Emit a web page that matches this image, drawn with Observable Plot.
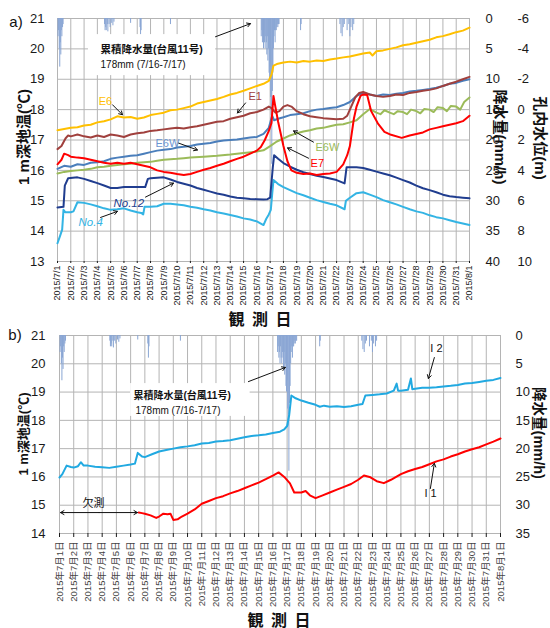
<!DOCTYPE html>
<html><head><meta charset="utf-8">
<script src="https://cdn.jsdelivr.net/npm/d3@7"></script>
<script src="https://cdn.jsdelivr.net/npm/@observablehq/plot@0.6"></script>
<style>
body{margin:0;background:#fff;}
#wrap{position:relative;width:550px;height:628px;overflow:hidden;font-family:"Liberation Sans","Noto Sans CJK JP",sans-serif;background:#fff;}
.abs{position:absolute;white-space:nowrap;color:#111;}
.c{transform:translate(-50%,-50%);}
.rl{transform:translate(-50%,-50%) rotate(-90deg);}
.rr{transform:translate(-50%,-50%) rotate(90deg);}
.t{font-weight:bold;}
</style></head>
<body>
<div id="wrap">
  <div id="pa" class="abs" style="left:0;top:0"></div>
  <div id="pb" class="abs" style="left:0;top:325px"></div>
  <div class="abs c" style="left:16px;top:21px;font-size:15px">a)</div>
  <div class="abs rl t" style="left:22px;top:137px;font-size:15px">1 m深地温(℃)</div>
  <div class="abs rr t" style="left:501px;top:137px;font-size:15px">降水量(mm/h)</div>
  <div class="abs rr t" style="left:541px;top:138px;font-size:15px">孔内水位(m)</div>
  <div class="abs c t" style="left:260px;top:318px;font-size:16px;word-spacing:3px">観 測 日</div>
  <div class="abs c" style="left:15px;top:334px;font-size:15px">b)</div>
  <div class="abs rl t" style="left:22px;top:434px;font-size:13px">1 m深地温(℃)</div>
  <div class="abs rr t" style="left:540px;top:433px;font-size:14.5px">降水量(mm/h)</div>
  <div class="abs c t" style="left:279px;top:619px;font-size:16px;word-spacing:3px">観 測 日</div>
</div>
<script>
// ---------- tick labels ----------
const labelsA = ["2015/7/1","2015/7/2","2015/7/3","2015/7/4","2015/7/5","2015/7/6","2015/7/7","2015/7/8","2015/7/9","2015/7/10","2015/7/11","2015/7/12","2015/7/13","2015/7/14","2015/7/15","2015/7/16","2015/7/17","2015/7/18","2015/7/19","2015/7/20","2015/7/21","2015/7/22","2015/7/23","2015/7/24","2015/7/25","2015/7/26","2015/7/27","2015/7/28","2015/7/29","2015/7/30","2015/7/31","2015/8/1"];
const labelsB = ["2015年7月1日","2015年7月2日","2015年7月3日","2015年7月4日","2015年7月5日","2015年7月6日","2015年7月7日","2015年7月8日","2015年7月9日","2015年7月10日","2015年7月11日","2015年7月12日","2015年7月13日","2015年7月14日","2015年7月15日","2015年7月16日","2015年7月17日","2015年7月18日","2015年7月19日","2015年7月20日","2015年7月21日","2015年7月22日","2015年7月23日","2015年7月24日","2015年7月25日","2015年7月26日","2015年7月27日","2015年7月28日","2015年7月29日","2015年7月30日","2015年7月31日","2015年8月1日"];
const tempTicksA = [21,20,19,18,17,16,15,14,13];
const rainTicksA = ["0","5","10","15","20","25","30","35","40"];
const waterTicksA = ["-6","-4","-2","0","2","4","6","8","10"];
const tempTicksB = [21,20,19,18,17,16,15,14];
const rainTicksB = ["0","5","10","15","20","25","30","35"];

// ---------- hourly rain [day since 7/1 0:00, mm/h] ----------
const rain = [
[0.04,3],[0.08,2],[0.13,5],[0.17,8],[0.21,4],[0.25,6],[0.29,2],[0.33,3],[0.38,1.5],[0.42,1],
[3.54,1],[3.58,2],[3.63,1.5],[3.67,2],[3.75,1],[3.79,2.2],[3.88,1],[3.96,1.5],[4.08,0.8],[4.17,1.2],[4.25,0.6],
[5.5,0.8],[6.21,1.5],[6.25,4],[6.29,2],[8.5,1],
[15.33,3],[15.375,2],[15.42,4],[15.46,3],[15.5,5],[15.54,2],[15.58,4],[15.625,5],[15.67,3],[15.71,4],[15.75,6],[15.79,3],[15.83,7],[15.875,5],[15.92,9],[15.96,10],[16.0,8],[16.04,13],[16.08,16],[16.125,24],[16.17,12],[16.21,9],[16.25,5],[16.29,3],[16.33,2],[16.375,4],[16.42,2],[16.46,2],[16.5,1.5],[16.54,1],[16.58,1.5],[16.625,1],[16.67,1],
[18.29,2],[18.33,1],
[21.25,1],[21.33,2.5],[21.42,3],[21.5,1.5],[21.58,1],[21.79,2],[21.92,1],[22.0,3],[22.08,1.5],[22.21,2],[22.29,1]
];

// ---------- panel a series [day, °C] ----------
const e6 = [[0,17.32],[0.5,17.36],[1,17.4],[1.5,17.42],[2,17.48],[2.5,17.5],[3,17.58],[3.5,17.62],[4,17.68],[4.5,17.78],[5,17.74],[5.5,17.76],[6,17.7],[6.5,17.74],[7,17.82],[7.5,17.86],[8,17.9],[8.5,17.98],[9,18.0],[9.5,18.05],[10,18.1],[10.5,18.2],[11,18.25],[11.5,18.3],[12,18.35],[12.5,18.42],[13,18.5],[13.5,18.55],[14,18.62],[14.5,18.7],[15,18.78],[15.5,18.85],[15.9,18.95],[16.1,19.15],[16.25,19.45],[16.5,19.5],[17,19.55],[17.5,19.58],[18,19.55],[18.5,19.6],[19,19.58],[19.5,19.62],[20,19.6],[20.5,19.65],[21,19.68],[21.5,19.72],[22,19.75],[22.5,19.8],[23,19.85],[23.5,19.88],[23.7,19.78],[24,19.92],[24.5,19.95],[25,20.0],[25.5,20.05],[26,20.12],[26.5,20.15],[27,20.2],[27.5,20.25],[28,20.3],[28.5,20.38],[29,20.42],[29.5,20.48],[30,20.55],[30.5,20.6],[31,20.7]];
const e1 = [[0,16.7],[0.3,16.8],[0.6,17.05],[0.8,17.15],[1,17.12],[1.5,17.18],[2,17.12],[2.5,17.08],[3,17.15],[3.5,17.1],[4,17.18],[4.5,17.15],[5,17.1],[5.5,17.18],[6,17.22],[6.5,17.25],[7,17.3],[7.5,17.32],[8,17.35],[8.5,17.38],[9,17.4],[9.5,17.38],[10,17.42],[10.5,17.45],[11,17.5],[11.5,17.55],[12,17.6],[12.5,17.62],[13,17.7],[13.5,17.75],[14,17.8],[14.5,17.88],[15,17.92],[15.5,18.0],[15.9,18.1],[16.1,18.05],[16.4,17.9],[16.7,17.95],[17,18.1],[17.3,18.15],[17.6,18.1],[18,17.95],[18.5,17.85],[19,17.78],[19.5,17.75],[20,17.72],[20.5,17.7],[21,17.68],[21.5,17.7],[21.8,17.8],[22.1,18.1],[22.4,18.4],[22.7,18.55],[23,18.58],[23.5,18.5],[24,18.45],[24.5,18.42],[25,18.45],[25.5,18.5],[26,18.48],[26.5,18.55],[27,18.58],[27.5,18.62],[28,18.65],[28.5,18.7],[29,18.78],[29.5,18.85],[30,18.92],[30.5,19.0],[31,19.08]];
const e6wBlue = [[0,16.05],[0.5,16.15],[1,16.12],[1.5,16.2],[2,16.18],[2.5,16.25],[3,16.27],[3.5,16.3],[4,16.38],[4.5,16.42],[5,16.45],[5.5,16.48],[6,16.5],[6.5,16.55],[7,16.6],[7.5,16.65],[8,16.68],[8.5,16.7],[9,16.75],[9.5,16.78],[10,16.8],[10.5,16.85],[11,16.88],[11.5,16.9],[12,16.95],[12.5,16.98],[13,17.0],[13.5,17.02],[14,17.05],[14.5,17.08],[15,17.1],[15.5,17.2],[15.9,17.4],[16.15,17.8],[16.3,17.65],[16.6,17.7],[17,17.75],[17.5,17.82],[18,17.85],[18.5,17.88],[19,17.95],[19.5,18.0],[20,18.02],[20.5,18.05],[21,18.08],[21.5,18.15],[22,18.25],[22.5,18.45],[23,18.55],[23.5,18.5],[24,18.45],[24.5,18.5],[25,18.48],[25.5,18.52],[26,18.55],[26.5,18.6],[27,18.62],[27.5,18.65],[28,18.68],[28.5,18.72],[29,18.78],[29.5,18.85],[30,18.88],[30.5,18.95],[31,19.0]];
const e6wGreen = [[0,15.9],[0.5,15.95],[1,15.98],[1.5,16.0],[2,16.02],[2.5,16.05],[3,16.1],[3.5,16.12],[4,16.15],[4.5,16.18],[5,16.2],[5.5,16.22],[6,16.25],[6.5,16.27],[7,16.28],[7.5,16.32],[8,16.35],[8.5,16.37],[9,16.38],[9.5,16.4],[10,16.42],[11,16.45],[12,16.48],[13,16.52],[14,16.57],[15,16.62],[15.5,16.66],[16,16.8],[16.5,16.95],[17,17.05],[17.5,17.15],[18,17.22],[18.5,17.28],[19,17.32],[19.5,17.38],[20,17.4],[20.5,17.45],[21,17.5],[21.5,17.52],[22,17.58],[22.5,17.65],[23,17.85],[23.5,18.02],[24,17.9],[24.3,17.85],[24.6,17.98],[25,17.9],[25.3,17.85],[25.6,17.95],[26,17.92],[26.3,17.85],[26.6,18.0],[27,17.95],[27.3,17.88],[27.6,18.02],[28,18.0],[28.3,17.92],[28.6,18.08],[29,18.05],[29.3,17.95],[29.6,18.12],[30,18.1],[30.3,18.0],[30.6,18.25],[31,18.4]];
const e7 = [[0,16.2],[0.3,16.35],[0.5,16.55],[0.8,16.5],[1,16.45],[1.5,16.42],[2,16.4],[2.5,16.35],[3,16.3],[3.5,16.25],[4,16.22],[4.5,16.25],[5,16.22],[5.5,16.25],[6,16.2],[6.5,16.15],[7,16.1],[7.5,16.0],[8,15.95],[8.5,15.92],[9,15.88],[9.5,15.85],[10,15.88],[10.5,15.95],[11,16.02],[11.5,16.08],[12,16.15],[12.5,16.22],[13,16.3],[13.5,16.38],[14,16.45],[14.5,16.55],[15,16.65],[15.3,16.77],[15.6,17.0],[15.9,17.3],[16.1,17.56],[16.25,18.45],[16.35,18.2],[16.6,17.6],[17,16.8],[17.3,16.3],[17.6,16.0],[18,15.92],[18.5,15.88],[19,15.9],[19.5,15.85],[20,15.88],[20.5,15.9],[21,15.95],[21.5,16.2],[21.8,16.5],[22,16.8],[22.3,17.7],[22.5,18.1],[22.8,18.45],[23,18.5],[23.3,18.48],[23.6,17.95],[24.1,17.55],[24.6,17.27],[25.1,17.17],[25.9,17.07],[26.5,17.15],[27,17.2],[27.5,17.25],[28,17.35],[28.5,17.4],[29,17.45],[29.5,17.5],[30,17.55],[30.5,17.62],[31,17.8]];
const no12 = [[0,14.78],[0.45,14.8],[0.55,15.5],[0.8,15.74],[1.5,15.77],[2,15.72],[2.5,15.65],[3,15.58],[3.5,15.5],[4,15.42],[4.5,15.42],[5,15.45],[5.5,15.45],[6,15.45],[6.6,15.45],[6.8,15.72],[7,15.74],[7.5,15.76],[8,15.77],[8.5,15.7],[9,15.62],[9.5,15.56],[10,15.5],[10.5,15.42],[11,15.36],[11.5,15.3],[12,15.24],[12.5,15.2],[13,15.14],[13.5,15.1],[14,15.08],[14.5,15.06],[15,15.05],[15.5,15.04],[15.8,15.05],[16.0,15.1],[16.2,16.1],[16.3,16.5],[16.6,16.38],[17,16.24],[17.5,16.12],[18,16.02],[18.5,15.94],[19,15.88],[19.5,15.82],[20,15.78],[20.5,15.73],[21,15.68],[21.6,15.57],[21.75,16.1],[22,16.1],[22.5,16.1],[23,16.08],[23.5,16.02],[24,15.96],[24.5,15.9],[25,15.84],[25.5,15.76],[26,15.68],[26.5,15.6],[27,15.5],[27.5,15.41],[28,15.35],[28.5,15.28],[29,15.2],[29.5,15.15],[30,15.12],[30.5,15.1],[31,15.08]];
const no4 = [[0,13.6],[0.2,13.85],[0.35,14.05],[0.45,14.7],[0.6,14.62],[1,14.62],[1.2,14.65],[1.5,14.95],[2,14.93],[2.5,14.88],[3,14.82],[3.5,14.75],[4,14.7],[4.5,14.72],[5,14.75],[5.5,14.68],[6,14.62],[6.3,14.6],[6.45,14.55],[6.55,14.8],[7,14.8],[7.5,14.82],[8,14.9],[8.5,14.9],[9,14.88],[9.5,14.85],[10,14.8],[10.5,14.77],[11,14.72],[11.5,14.68],[12,14.62],[12.5,14.58],[13,14.53],[13.5,14.48],[14,14.42],[14.5,14.38],[15,14.32],[15.5,14.2],[15.7,14.4],[15.9,14.55],[16.05,14.7],[16.15,15.2],[16.25,15.68],[16.6,15.55],[17,15.45],[17.5,15.35],[18,15.25],[18.5,15.18],[19,15.1],[19.5,15.02],[20,14.96],[20.5,14.9],[21,14.85],[21.6,14.72],[21.7,15.0],[22,15.1],[22.5,15.25],[23,15.28],[23.5,15.2],[24,15.12],[24.5,15.02],[25,14.95],[25.5,14.88],[26,14.8],[26.5,14.72],[27,14.65],[27.5,14.6],[28,14.52],[28.5,14.46],[29,14.42],[29.5,14.36],[30,14.3],[30.5,14.25],[31,14.2]];

// ---------- panel b series ----------
const i2 = [[0,15.98],[0.2,16.1],[0.5,16.4],[0.8,16.35],[1,16.33],[1.3,16.38],[1.5,16.52],[1.7,16.4],[2,16.4],[2.5,16.36],[3,16.34],[3.5,16.32],[4,16.36],[4.5,16.4],[5,16.44],[5.3,16.47],[5.5,16.85],[5.8,16.72],[6,16.7],[6.5,16.8],[7,16.9],[7.5,16.95],[8,17.0],[8.5,17.05],[9,17.08],[9.5,17.12],[10,17.18],[10.5,17.2],[11,17.25],[11.5,17.27],[12,17.3],[12.5,17.35],[13,17.4],[13.5,17.45],[14,17.47],[14.5,17.5],[15,17.55],[15.5,17.6],[15.8,17.68],[16.0,17.8],[16.15,18.2],[16.3,18.88],[16.6,18.78],[17,18.7],[17.5,18.62],[18,18.55],[18.3,18.48],[18.6,18.52],[19,18.48],[19.5,18.5],[20,18.47],[20.5,18.5],[21,18.55],[21.3,18.58],[21.5,18.88],[22,18.9],[22.5,18.92],[23,18.95],[23.5,19.05],[23.7,19.3],[23.8,19.05],[24,19.05],[24.5,19.08],[24.7,19.48],[24.8,19.1],[25,19.12],[25.5,19.15],[26,19.15],[26.5,19.17],[27,19.2],[27.5,19.22],[28,19.25],[28.5,19.3],[29,19.32],[29.5,19.36],[30,19.4],[30.5,19.43],[31,19.5]];
const i1 = [[5.57,14.74],[5.8,14.72],[6,14.7],[6.4,14.64],[6.8,14.55],[7,14.6],[7.3,14.7],[7.6,14.68],[7.8,14.7],[8,14.48],[8.3,14.5],[8.6,14.6],[9,14.7],[9.5,14.85],[10,15.05],[10.5,15.15],[11,15.25],[11.5,15.32],[12,15.42],[12.5,15.5],[13,15.6],[13.5,15.7],[14,15.8],[14.5,15.92],[15,16.05],[15.4,16.16],[15.8,16.0],[16.2,15.77],[16.5,15.45],[17,15.45],[17.3,15.5],[17.6,15.35],[18,15.25],[18.5,15.35],[19,15.45],[19.5,15.55],[20,15.65],[20.5,15.75],[21,15.9],[21.4,16.05],[21.8,16.0],[22.3,15.85],[22.8,15.78],[23.3,15.9],[24,16.1],[24.5,16.2],[25,16.28],[25.5,16.35],[26,16.45],[26.5,16.55],[27,16.62],[27.5,16.72],[28,16.8],[28.5,16.9],[29,16.98],[29.5,17.05],[30,17.15],[30.5,17.25],[31,17.36]];

// ---------- annotations (data coordinates) ----------
const boxA = [{x1:2.33,x2:11.9,y1:20.47,y2:19.12}];
const boxB = [{x1:5.0,x2:13.4,y1:19.3,y2:18.14}];
const notesA = [
  {x:3.24,y:19.98,text:"累積降水量(台風11号)",bold:true},
  {x:3.24,y:19.48,text:"178mm (7/16-7/17)",bold:false}];
const notesB = [
  {x:5.2,y:18.88,text:"累積降水量(台風11号)",bold:true},
  {x:5.34,y:18.35,text:"178mm (7/16-7/17)",bold:false}];
const seriesLabelsA = [
  {x:3.1,y:18.26,text:"E6",color:"#FFC000"},
  {x:14.37,y:18.42,text:"E1",color:"#A0403D"},
  {x:7.37,y:16.9,text:"E6W",color:"#6C95D2"},
  {x:19.41,y:16.77,text:"E6W",color:"#9BBB59"},
  {x:19.04,y:16.24,text:"E7",color:"#FF0000"}];
const italicLabelsA = [
  {x:4.21,y:14.92,text:"No.12",color:"#203D8F"},
  {x:1.58,y:14.29,text:"No.4",color:"#33B4E4"}];
const arrowsA = [
  {x1:11.89,y1:20.4,x2:14.52,y2:20.83},
  {x1:4.14,y1:18.16,x2:4.89,y2:17.83},
  {x1:14.15,y1:18.22,x2:13.54,y2:17.89},
  {x1:9.1,y1:16.9,x2:10.53,y2:16.67},
  {x1:19.26,y1:16.93,x2:17.76,y2:17.3},
  {x1:18.89,y1:16.4,x2:17.31,y2:16.74},
  {x1:6.62,y1:15.12,x2:8.73,y2:15.58},
  {x1:3.24,y1:14.45,x2:4.51,y2:14.65}];
const labelsBtext = [
  {x:26.07,y:20.54,text:"I 2"},
  {x:25.65,y:15.41,text:"I 1"},
  {x:1.62,y:15.06,text:"欠測"}];
const arrowsB = [
  {x1:13.28,y1:19.37,x2:15.88,y2:19.87},
  {x1:26.35,y1:20.22,x2:25.93,y2:19.48},
  {x1:26.07,y1:15.59,x2:26.35,y2:16.48},
  {x1:2.78,y1:14.74,x2:0.07,y2:14.74},
  {x1:2.78,y1:14.74,x2:5.48,y2:14.74}];

const FONT = "'Liberation Sans','Noto Sans CJK JP',sans-serif";
const dayIdx = labelsA.map((_, i) => i);
const GRID = "#B4B4B4";
const RAIN = "#8AA6D4";
const X = d => d[0], Y = d => d[1];
const intFmt = d => String(d);

const pa = Plot.plot({
  width: 550, height: 325,
  marginTop: 18, marginBottom: 64, marginLeft: 57, marginRight: 81,
  x: {domain: [0, 31]},
  y: {domain: [13, 21]},
  style: {fontFamily: FONT, overflow: "visible", background: "transparent", color: "#1a1a1a"},
  marks: [
    Plot.ruleX(dayIdx, {stroke: GRID, strokeWidth: 1}),
    Plot.ruleY(tempTicksA, {stroke: GRID, strokeWidth: 1}),
    Plot.ruleX(rain, {x: X, y1: 21, y2: d => 21 - d[1] / 5, stroke: RAIN, strokeWidth: 1}),
    Plot.rect(boxA, {x1: "x1", x2: "x2", y1: "y1", y2: "y2", fill: "white"}),
    Plot.line(no4, {x: X, y: Y, stroke: "#33B4E4", strokeWidth: 2}),
    Plot.line(no12, {x: X, y: Y, stroke: "#203D8F", strokeWidth: 2}),
    Plot.line(e6wGreen, {x: X, y: Y, stroke: "#9BBB59", strokeWidth: 2}),
    Plot.line(e6wBlue, {x: X, y: Y, stroke: "#4A7EBB", strokeWidth: 2}),
    Plot.line(e1, {x: X, y: Y, stroke: "#A0403D", strokeWidth: 2}),
    Plot.line(e6, {x: X, y: Y, stroke: "#FFC000", strokeWidth: 2}),
    Plot.line(e7, {x: X, y: Y, stroke: "#FF0000", strokeWidth: 2}),
    Plot.arrow(arrowsA, {x1: "x1", y1: "y1", x2: "x2", y2: "y2", stroke: "#111", strokeWidth: 1, headLength: 6}),
    Plot.text(notesA.filter(d => d.bold), {x: "x", y: "y", text: "text", textAnchor: "start", fontSize: 10.5, fontWeight: "bold", fill: "#111"}),
    Plot.text(notesA.filter(d => !d.bold), {x: "x", y: "y", text: "text", textAnchor: "start", fontSize: 10, fill: "#111"}),
    Plot.text(seriesLabelsA, {x: "x", y: "y", text: "text", fill: "color", textAnchor: "start", fontSize: 11}),
    Plot.text(italicLabelsA, {x: "x", y: "y", text: "text", fill: "color", textAnchor: "start", fontSize: 11.5, fontStyle: "italic"}),
    Plot.axisY({anchor: "left", ticks: tempTicksA, tickFormat: intFmt, tickSize: 0, tickPadding: 13, fontSize: 13, label: null}),
    Plot.axisY({anchor: "right", ticks: tempTicksA, tickFormat: d => rainTicksA[21 - d], tickSize: 0, tickPadding: 16, fontSize: 13, label: null}),
    Plot.axisY({anchor: "right", ticks: tempTicksA, tickFormat: d => waterTicksA[21 - d], tickSize: 0, tickPadding: 48, fontSize: 13, label: null}),
    Plot.axisX({ticks: dayIdx, tickFormat: d => labelsA[d], tickRotate: -90, tickSize: 2, tickPadding: 2, fontSize: 9, label: null})
  ]
});
document.getElementById("pa").append(pa);

const pb = Plot.plot({
  width: 550, height: 303,
  marginTop: 10, marginBottom: 95, marginLeft: 59, marginRight: 50,
  x: {domain: [0, 31]},
  y: {domain: [14, 21]},
  style: {fontFamily: FONT, overflow: "visible", background: "transparent", color: "#1a1a1a"},
  marks: [
    Plot.ruleX(dayIdx, {stroke: GRID, strokeWidth: 1}),
    Plot.ruleY(tempTicksB, {stroke: GRID, strokeWidth: 1}),
    Plot.ruleX(rain, {x: X, y1: 21, y2: d => 21 - d[1] / 5, stroke: RAIN, strokeWidth: 1}),
    Plot.rect(boxB, {x1: "x1", x2: "x2", y1: "y1", y2: "y2", fill: "white"}),
    Plot.line(i1, {x: X, y: Y, stroke: "#FF0000", strokeWidth: 2}),
    Plot.line(i2, {x: X, y: Y, stroke: "#21A9E1", strokeWidth: 2}),
    Plot.arrow(arrowsB, {x1: "x1", y1: "y1", x2: "x2", y2: "y2", stroke: "#111", strokeWidth: 1, headLength: 6}),
    Plot.text(notesB.filter(d => d.bold), {x: "x", y: "y", text: "text", textAnchor: "start", fontSize: 10, fontWeight: "bold", fill: "#111"}),
    Plot.text(notesB.filter(d => !d.bold), {x: "x", y: "y", text: "text", textAnchor: "start", fontSize: 10, fill: "#111"}),
    Plot.text(labelsBtext, {x: "x", y: "y", text: "text", textAnchor: "start", fontSize: 11, fill: "#111"}),
    Plot.axisY({anchor: "left", ticks: tempTicksB, tickFormat: intFmt, tickSize: 0, tickPadding: 14, fontSize: 13, label: null}),
    Plot.axisY({anchor: "right", ticks: tempTicksB, tickFormat: d => rainTicksB[21 - d], tickSize: 0, tickPadding: 15, fontSize: 13, label: null}),
    Plot.axisX({ticks: dayIdx, tickFormat: d => labelsB[d], tickRotate: -90, tickSize: 4, tickPadding: 4, fontSize: 9.5, label: null, fill: "#444"})
  ]
});
document.getElementById("pb").append(pb);
</script>
</body></html>
